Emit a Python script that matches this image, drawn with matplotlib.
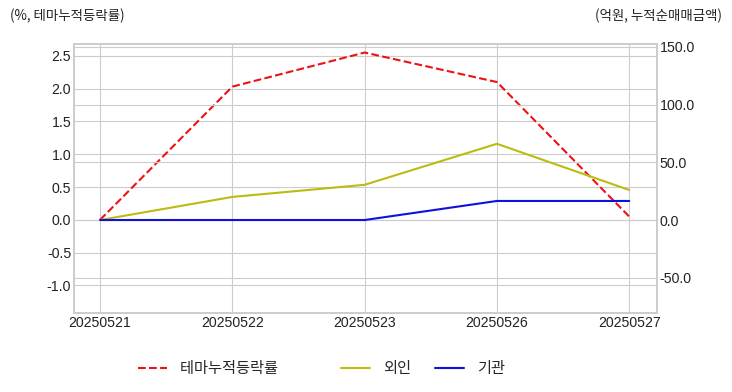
import matplotlib.pyplot as plt

plt.style.use('seaborn-v0_8-whitegrid')
plt.rcParams['font.family'] = ['Liberation Sans', 'Noto Sans CJK KR', 'DejaVu Sans']
plt.rcParams['axes.unicode_minus'] = False

dates = ['20250521', '20250522', '20250523', '20250526', '20250527']
theme_rate = [0.0, 2.03, 2.55, 2.10, 0.05]
foreign = [0.0, 20.0, 30.5, 66.0, 26.0]
institution = [0.0, 0.0, 0.0, 16.5, 16.5]

fig = plt.figure(figsize=(7.32, 3.92), dpi=100)
ax = fig.add_axes([74 / 732, 1 - 313 / 392, 583 / 732, 269 / 392])
ax2 = ax.twinx()

x = list(range(len(dates)))
l1, = ax.plot(x, theme_rate, color='#ee1111', linestyle='--', linewidth=1.5, label='테마누적등락률')
l2, = ax2.plot(x, foreign, color='#bbbb11', linewidth=1.5, label='외인')
l3, = ax2.plot(x, institution, color='#1111dd', linewidth=1.5, label='기관')

ax.set_xlim(-0.197, 4.21)
ax.set_ylim(-1.42, 2.68)
ax2.set_ylim(-80.5, 152.4)
ax.set_xticks(x)
ax.set_xticklabels(dates)
ax.set_yticks([-1.0, -0.5, 0.0, 0.5, 1.0, 1.5, 2.0, 2.5])
ax.set_yticklabels([f'{v:.1f}' for v in [-1.0, -0.5, 0.0, 0.5, 1.0, 1.5, 2.0, 2.5]])
ax2.set_yticks([-50, 0, 50, 100, 150])
ax2.set_yticklabels([f'{v:.1f}' for v in [-50, 0, 50, 100, 150]])

for a in (ax, ax2):
    a.tick_params(labelsize=10.2, colors='#222222', pad=2)
    a.grid(True, color='#cccccc', linewidth=0.8)
    for s in a.spines.values():
        s.set_visible(True)
        s.set_color('#cccccc')
        s.set_linewidth(1.2)
ax2.grid(axis='x', visible=False)

kr = ['Noto Sans CJK KR', 'DejaVu Sans']
fig.text(10 / 732, 1 - 16 / 392, '(%, 테마누적등락률)', fontsize=9.7, color='#222222',
         va='center', ha='left', family=kr)
fig.text(722 / 732, 1 - 16 / 392, '(억원, 누적순매매금액)', fontsize=9.7, color='#222222',
         va='center', ha='right', family=kr)

# first label is padded so the gap after it is wider, as in the original
labels = ['테마누적등락률' + '\u2007' * 4, '외인', '기관']
fig.legend(handles=[l1, l2, l3], labels=labels, loc='center left',
           bbox_to_anchor=(138 / 732, 1 - 369 / 392),
           ncol=3, frameon=False, prop={'family': kr, 'size': 11}, handlelength=1.9,
           handletextpad=0.85, columnspacing=1.57, borderpad=0, borderaxespad=0)

fig.savefig('out.png', dpi=100)
